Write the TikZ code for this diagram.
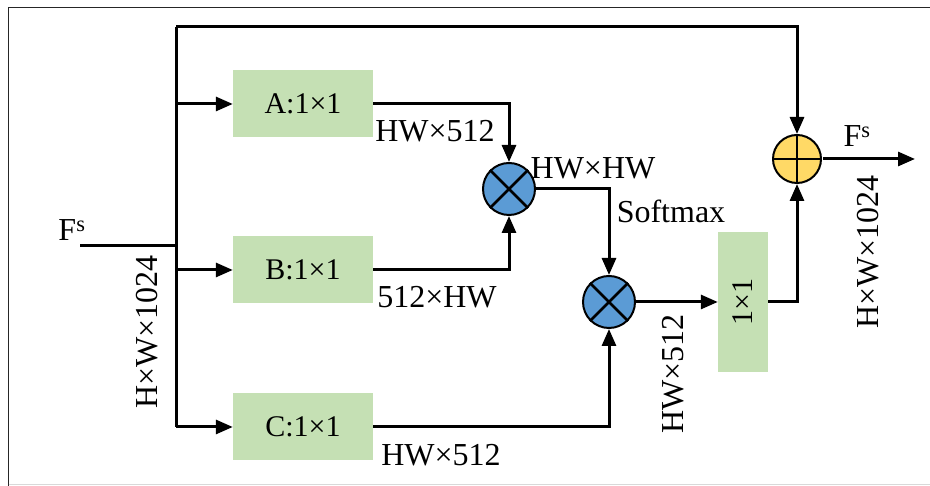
\documentclass[tikz,border=0pt]{standalone}
\usepackage{fontspec}
\setmainfont{Liberation Serif}
\usetikzlibrary{arrows.meta,calc}
\definecolor{boxgreen}{HTML}{C5E0B4}
\definecolor{mulblue}{HTML}{5B9BD5}
\definecolor{addgold}{HTML}{FFD966}
\tikzset{
  x=1pt,y=1pt,
  conn/.style={line width=3pt, line join=miter},
  arr/.style={conn, -{Triangle[length=17pt,width=14pt]}},
  convbox/.style={fill=boxgreen, draw=none, minimum width=140pt, minimum height=67pt, inner sep=0pt, font=\fontsize{30}{30}\selectfont},
  mulop/.style={circle, fill=mulblue, draw=black, line width=2pt, minimum size=52pt, inner sep=0pt},
  addop/.style={circle, fill=addgold, draw=black, line width=2pt, minimum size=48pt, inner sep=0pt},
  lbl/.style={inner sep=0pt, font=\fontsize{32}{32}\selectfont},
}
\begin{document}
\begin{tikzpicture}
\useasboundingbox (0,0) rectangle (930,486);
% frame
\draw[line width=1.6pt, black!85] (8.5,0) -- (8.5,478.5) -- (930,478.5);
\draw[line width=1.5pt, black!15] (8.5,1.5) -- (930,1.5);

% nodes
\node[convbox] (A) at (303,382) {A:1×1};
\node[convbox] (B) at (303,216) {B:1×1};
\node[convbox] (C) at (303,59) {C:1×1};
\node[mulop] (m1) at (509,297) {};
\node[mulop] (m2) at (609,184) {};
\node[convbox, minimum width=50pt, minimum height=140pt] (conv) at (743,184) {};
\node[rotate=90, font=\fontsize{30}{30}\selectfont, inner sep=0pt] (convt) at (conv.center) {1×1};
\node[addop] (add) at (797,327) {};

% operator symbols
\draw[line width=2.6pt] (m1.45) -- (m1.225) (m1.135) -- (m1.315);
\draw[line width=2.6pt] (m2.45) -- (m2.225) (m2.135) -- (m2.315);
\draw[line width=2.6pt] (add.north) -- (add.south) (add.west) -- (add.east);

% coordinates
\coordinate (in) at (80,240);
\coordinate (j0) at (176,240);
\coordinate (tl) at (176,459);
\coordinate (tr) at (797,459);
\coordinate (bot) at (176,59);
\coordinate (out) at (915,327);

% connectors
\draw[conn] (in) -- (j0);
\draw[conn] (tl) -- (bot);
\draw[arr] (tl) -- (tr) -- (add.north);
\draw[arr] (A.west -| tl) -- (A.west);
\draw[arr] (B.west -| tl) -- (B.west);
\draw[arr] (bot) -- (C.west);
\draw[arr] (A.east) -| (m1.north);
\draw[arr] (B.east) -| (m1.south);
\draw[arr] (m1.east) -| (m2.north);
\draw[arr] (C.east) -| (m2.south);
\draw[arr] (m2.east) -- (conv.west);
\draw[arr] (conv.east) -| (add.south);
\draw[arr] (add.east) ++(1,0) coordinate (ae) (ae) -- (out);

% labels
\node[lbl] (fin) at (72,256) {F\textsuperscript{s}};
\node[lbl] (fout) at (857,350) {F\textsuperscript{s}};
\node[lbl] (la) at (435,355) {HW×512};
\node[lbl] (lb) at (437,189) {512×HW};
\node[lbl] (lc) at (441,31) {HW×512};
\node[lbl] (lhw) at (593,318) {HW×HW};
\node[lbl] (lsm) at (671,275) {Softmax};
\node[lbl, rotate=90] (lleft) at (147,154) {H×W×1024};
\node[lbl, rotate=90] (lright) at (868,234) {H×W×1024};
\node[lbl, rotate=90] (lmid) at (673,112) {HW×512};
\end{tikzpicture}
\end{document}
